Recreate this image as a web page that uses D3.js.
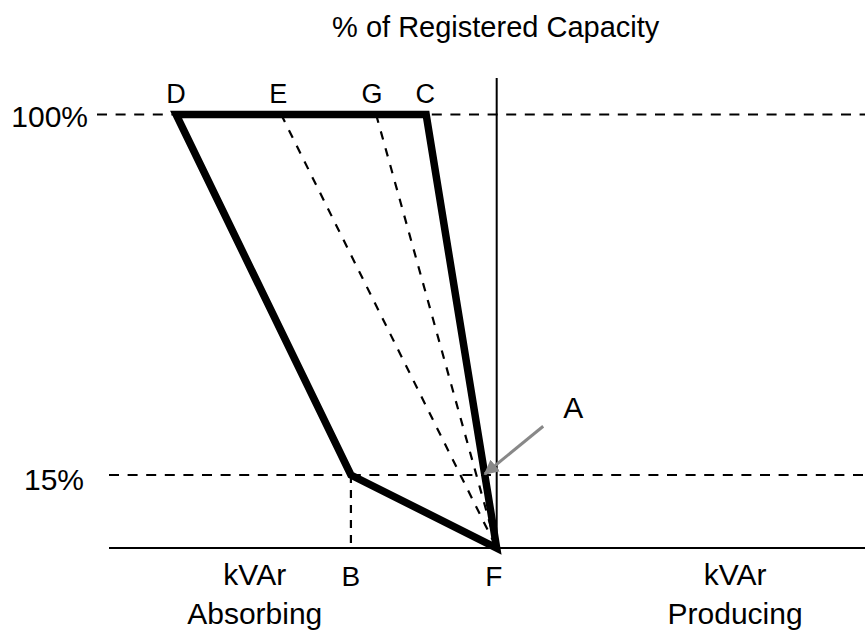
<!DOCTYPE html>
<html>
<head>
<meta charset="utf-8">
<script src="https://cdn.jsdelivr.net/npm/d3@7"></script>
<style>
  html, body { margin: 0; padding: 0; background: #fff; }
  svg { display: block; font-family: "Liberation Sans", Arial, sans-serif; }
</style>
</head>
<body>
<svg id="chart" width="865" height="630"></svg>
<script>
// ---- data (normalised kVAr on x, % of registered capacity on y) ----
const pointNames = ["D", "E", "G", "C", "B", "F"];
const pointKvar  = [-0.827, -0.556, -0.311, -0.182, -0.376, 0];
const pointPct   = [100, 100, 100, 100, 15, 0];
const capabilityOutline = ["D", "C", "F", "B"];
const dashedRays = ["E", "G"];
const yTickValues = [100, 15];
const yTickLabels = ["100%", "15%"];
const arrowFrom = { kvar: 0.12, pct: 26.5 };
const chartTitle = "% of Registered Capacity";

(function () {
const svg = d3.select("#chart");
const x = d3.scaleLinear().domain([-1, 0.95]).range([109, 865]);
// diagram not drawn to scale: piecewise vertical scale
const y = d3.scaleLinear().domain([0, 15, 100]).range([548, 475, 114.5]);

const P = {};
pointNames.forEach((n, i) => P[n] = { x: x(pointKvar[i]), y: y(pointPct[i]) });

// title
svg.append("text").attr("x", x(0) - 1).attr("y", 37)
  .attr("text-anchor", "middle").attr("font-size", 29).text(chartTitle);

// horizontal reference dashed lines
const dashY = svg.append("g");
yTickValues.forEach((v, i) => {
  dashY.append("line")
    .attr("x1", i === 0 ? 97 : 109).attr("x2", 865)
    .attr("y1", y(v)).attr("y2", y(v))
    .attr("stroke", "#000").attr("stroke-width", 2.2)
    .attr("stroke-dasharray", "10,8.6");
  dashY.append("text")
    .attr("x", i === 0 ? 88 : 84).attr("y", y(v) + (i === 0 ? 12 : 15))
    .attr("text-anchor", "end").attr("font-size", 30).text(yTickLabels[i]);
});

// B vertical dashed line
svg.append("line")
  .attr("x1", P.B.x).attr("x2", P.B.x).attr("y1", P.B.y).attr("y2", y(0))
  .attr("stroke", "#000").attr("stroke-width", 2.2).attr("stroke-dasharray", "8,7");

// axes
svg.append("line").attr("x1", 109).attr("x2", 865).attr("y1", y(0)).attr("y2", y(0))
  .attr("stroke", "#000").attr("stroke-width", 2);
svg.append("line").attr("x1", x(0)).attr("x2", x(0)).attr("y1", y(100) - 36.5).attr("y2", y(0))
  .attr("stroke", "#000").attr("stroke-width", 2);

// dashed rays to F
dashedRays.forEach(n => {
  svg.append("line")
    .attr("x1", P[n].x).attr("y1", P[n].y).attr("x2", P.F.x).attr("y2", P.F.y)
    .attr("stroke", "#000").attr("stroke-width", 2.2).attr("stroke-dasharray", "8.5,9");
});

// capability outline
const line = d3.line().x(d => P[d].x).y(d => P[d].y).curve(d3.curveLinearClosed);
svg.append("path").attr("d", line(capabilityOutline))
  .attr("fill", "none").attr("stroke", "#000").attr("stroke-width", 7.5)
  .attr("stroke-linejoin", "miter").attr("stroke-miterlimit", 10);

// arrow to A point (C-F edge at 15%)
const t = (y(15) - P.C.y) / (P.F.y - P.C.y);
const tip = { x: P.C.x + t * (P.F.x - P.C.x), y: y(15) - 1 };
const defs = svg.append("defs");
defs.append("marker").attr("id", "ah").attr("viewBox", "0 0 10 10")
  .attr("refX", 9).attr("refY", 5).attr("markerWidth", 5).attr("markerHeight", 5)
  .attr("orient", "auto").attr("markerUnits", "strokeWidth")
  .append("path").attr("d", "M0,0 L10,5 L0,10 z").attr("fill", "#888");
svg.append("line")
  .attr("x1", x(arrowFrom.kvar)).attr("y1", y(arrowFrom.pct))
  .attr("x2", tip.x).attr("y2", tip.y)
  .attr("stroke", "#888").attr("stroke-width", 3).attr("marker-end", "url(#ah)");

// point labels
const topNames = ["D", "E", "G", "C"];
const topOffsets = { D: 0, E: -3, G: -4, C: -1 };
topNames.forEach(n => {
  svg.append("text").attr("x", P[n].x + topOffsets[n]).attr("y", 103)
    .attr("text-anchor", "middle").attr("font-size", 27).text(n);
});
svg.append("text").attr("x", P.B.x).attr("y", 586).attr("text-anchor", "middle").attr("font-size", 28).text("B");
svg.append("text").attr("x", P.F.x - 3).attr("y", 586).attr("text-anchor", "middle").attr("font-size", 28).text("F");
svg.append("text").attr("x", x(arrowFrom.kvar) + 30).attr("y", 418).attr("text-anchor", "middle").attr("font-size", 30).text("A");

// axis side labels
const sideLabels = [
  { kvar: -0.624, lines: ["kVAr", "Absorbing"] },
  { kvar: 0.615, lines: ["kVAr", "Producing"] }
];
sideLabels.forEach(s => {
  s.lines.forEach((l, i) => {
    svg.append("text").attr("x", x(s.kvar)).attr("y", 585 + i * 39)
      .attr("text-anchor", "middle").attr("font-size", 30).text(l);
  });
});
})();
</script>
</body>
</html>
